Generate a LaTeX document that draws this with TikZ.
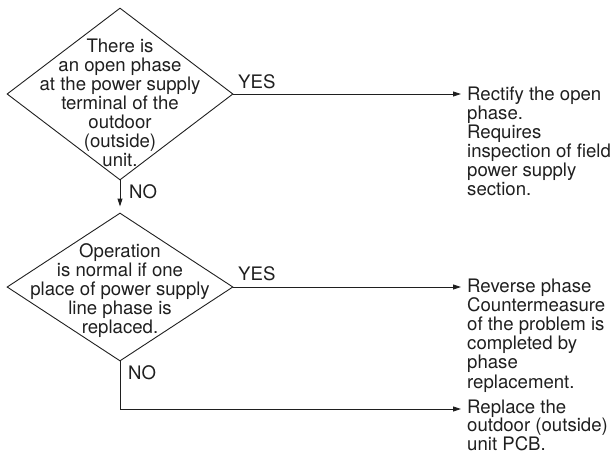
\documentclass[tikz,border=0pt]{standalone}
\usepackage{fontspec}
\setmainfont{TeX Gyre Heros}
\usetikzlibrary{shapes.geometric,arrows.meta}
\tikzset{
  dec/.style={draw, shape=diamond, inner sep=0pt, minimum width=226pt},
  lbl/.style={inner sep=0pt, font=\fontsize{18.6}{18.6}\selectfont},
  conn/.style={line width=0.9pt, -{Triangle[length=8pt,width=5pt]}},
  plain/.style={line width=0.9pt}
}
\begin{document}
\begin{tikzpicture}[x=1pt,y=-1pt, line join=miter, color=black!88]
\useasboundingbox (0,0) rectangle (612,453);
% decisions
\node[dec, line width=0.9pt, minimum height=172pt] (d1) at (120,94) {};
\node[dec, line width=0.9pt, minimum height=148pt] (d2) at (120,287) {};
\node[lbl, anchor=base] (q1) at (120,52) {\begin{tabular}[t]{@{}c@{}}There is\\an open phase\\at the power supply\\terminal of the\\outdoor\\(outside)\\unit.\end{tabular}};
\node[lbl, anchor=base] (q2) at (120,257) {\begin{tabular}[t]{@{}c@{}}Operation\\is normal if one\\place of power supply\\line phase is\\replaced.\end{tabular}};
% results
\node[lbl, anchor=base west] (r1) at (467,100) {\begin{tabular}[t]{@{}l@{}}Rectify the open\\phase.\\Requires\\inspection of field\\power supply\\section.\end{tabular}};
\node[lbl, anchor=base west] (r2) at (467,292) {\begin{tabular}[t]{@{}l@{}}Reverse phase\\Countermeasure\\of the problem is\\completed by\\phase\\replacement.\end{tabular}};
\node[lbl, align=left, anchor=north west] (r3) at (467,399.5) {Replace the\\outdoor (outside)\\unit PCB.};
% labels
\node[lbl, anchor=base west] (y1) at (238,88) {YES};
\node[lbl, anchor=base west] (y2) at (238,280) {YES};
\node[lbl, anchor=base west] (n1) at (129,198) {NO};
\node[lbl, anchor=base west] (n2) at (128,379) {NO};
% arrow ends
\coordinate (e1) at (461,94);
\coordinate (e2) at (461,287);
\coordinate (e3) at (461,409);
% connectors
\draw[conn] (d1.east) -- (e1);
\draw[conn, shorten >=6pt] (d1.south) -- (d2.north);
\draw[conn] (d2.east) -- (e2);
\draw[conn] (d2.south) |- (e3);
\end{tikzpicture}
\end{document}
